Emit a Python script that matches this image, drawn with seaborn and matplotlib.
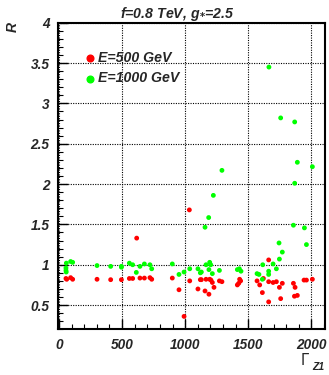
import matplotlib
matplotlib.use("Agg")
import matplotlib.pyplot as plt
from matplotlib.ticker import MultipleLocator
import seaborn as sns
import pandas as pd

# E = 500 GeV series
gamma_500 = [56, 62, 93, 109, 302, 410, 495, 558, 584, 616, 642, 677, 721, 735,
             898, 951, 991, 1033, 1036, 1101, 1120, 1128, 1157, 1165, 1188, 1194,
             1204, 1215, 1228, 1271, 1291, 1413, 1424, 1431, 1439, 1569, 1590,
             1611, 1619, 1661, 1661, 1661, 1696, 1722, 1746, 1756, 1769, 1857,
             1870, 1865, 1888, 1941, 1960, 2007]
r_500 = [0.83, 0.82, 0.84, 0.82, 0.82, 0.815, 0.815, 0.83, 0.83, 1.33, 0.835, 0.835,
         0.84, 0.82, 0.835, 0.69, 0.36, 1.68, 0.80, 0.70, 0.815, 0.815, 0.675, 0.82,
         0.635, 0.82, 0.81, 0.78, 0.72, 0.80, 0.79, 0.75, 0.77, 0.82, 0.80, 0.80,
         0.75, 0.655, 0.83, 1.06, 0.79, 0.54, 0.78, 0.79, 0.72, 0.58, 0.77, 0.77,
         0.72, 0.61, 0.62, 0.81, 0.81, 0.82]

# E = 1000 GeV series
gamma_1000 = [56, 56, 59, 58, 93, 109, 302, 410, 495, 495, 558, 584, 613, 642, 677,
              721, 735, 898, 951, 991, 1036, 1101, 1120, 1128, 1157, 1165, 1186,
              1194, 1202, 1188, 1215, 1223, 1271, 1291, 1413, 1429, 1442, 1569,
              1584, 1614, 1611, 1661, 1661, 1663, 1696, 1722, 1746, 1743, 1769,
              1756, 1857, 1867, 1867, 1888, 1944, 1960, 2007]
r_1000 = [0.96, 0.93, 1.02, 0.91, 1.04, 1.03, 0.99, 0.98, 0.98, 0.97, 1.02, 1.00,
          0.905, 0.98, 1.01, 1.00, 0.95, 1.01, 0.88, 0.91, 0.95, 0.95, 0.90, 0.91,
          1.465, 1.00, 1.585, 1.03, 1.00, 0.94, 0.89, 1.86, 0.93, 2.17, 0.94, 0.95,
          0.92, 0.89, 0.88, 1.00, 0.82, 0.92, 0.88, 3.45, 1.01, 0.95, 1.07, 1.27,
          1.157, 2.82, 1.49, 2.77, 2.01, 2.27, 1.457, 1.25, 2.215]

series_labels = ["E=500 GeV", "E=1000 GeV"]
series_colors = ["#ff0000", "#00ff00"]
x_ticks = [0, 500, 1000, 1500, 2000]
y_ticks = [0.5, 1, 1.5, 2, 2.5, 3, 3.5, 4]

df = pd.concat([
    pd.DataFrame({"gamma": gamma_500, "R": r_500, "E": series_labels[0]}),
    pd.DataFrame({"gamma": gamma_1000, "R": r_1000, "E": series_labels[1]}),
], ignore_index=True)

sns.set_theme(style="white")
FONT = ["Liberation Sans", "DejaVu Sans"]
plt.rcParams["font.family"] = FONT

fig = plt.figure(figsize=(3.29, 3.75), dpi=100)
ax = fig.add_axes([58 / 329, 1 - 329.3 / 375, (325 - 58) / 329, (329.3 - 22.7) / 375])

sns.scatterplot(data=df, x="gamma", y="R", hue="E", hue_order=series_labels,
                palette=series_colors, s=12, linewidth=0, ax=ax, legend=False,
                zorder=3)

ax.set_xlim(-7, 2107)
ax.set_ylim(0.2, 4.0)
ax.set_xticks(x_ticks)
ax.set_yticks(y_ticks)
ax.set_xticklabels([str(t) for t in x_ticks])
ax.set_yticklabels([("%g" % t) for t in y_ticks])
ax.xaxis.set_minor_locator(MultipleLocator(100))
ax.yaxis.set_minor_locator(MultipleLocator(0.1))
ax.tick_params(axis="both", which="major", direction="in", length=7, width=1,
               color="black", labelsize=9.8, pad=6, bottom=True, left=True,
               top=False, right=False)
ax.tick_params(axis="both", which="minor", direction="in", length=3.5, width=0.8,
               color="black", bottom=True, left=True, top=False, right=False)
for lab in ax.get_xticklabels() + ax.get_yticklabels():
    lab.set_fontweight("bold")
    lab.set_fontstyle("italic")
ax.grid(True, which="major", linestyle=(0, (1, 1.2)), color="black", linewidth=0.8)
for sp in ax.spines.values():
    sp.set_color("black")
    sp.set_linewidth(1.5)
ax.set_xlabel("")
ax.set_ylabel("")

# title
fig.text(177 / 329, 1 - 14 / 375, r"f=0.8 TeV, g$_{\mathbf{*}}$=2.5", ha="center",
         va="center", fontsize=10.2, fontweight="bold", fontstyle="italic")
# axis labels
fig.text(13 / 329, 1 - 27 / 375, "R", rotation=90, ha="center", va="center",
         fontsize=10, fontweight="bold", fontstyle="italic")
fig.text(305 / 329, 1 - 360 / 375, r"$\Gamma$", ha="center", va="center",
         fontsize=10.5)
fig.text(312 / 329, 1 - 367 / 375, "Z1", ha="left", va="center",
         fontsize=7.5, fontweight="bold", fontstyle="italic")

# legend
for i, (lab, col) in enumerate(zip(series_labels, series_colors)):
    yy = 1 - (58 + 20.5 * i) / 375
    fig.text(97.5 / 329, yy, lab, ha="left", va="center", fontsize=10.2,
             fontweight="bold", fontstyle="italic")
    fig.lines.append(plt.Line2D([89.5 / 329], [yy], marker="o", color=col,
                                markersize=4.8, linestyle="none",
                                transform=fig.transFigure, figure=fig))

fig.savefig("out.png", dpi=100)
